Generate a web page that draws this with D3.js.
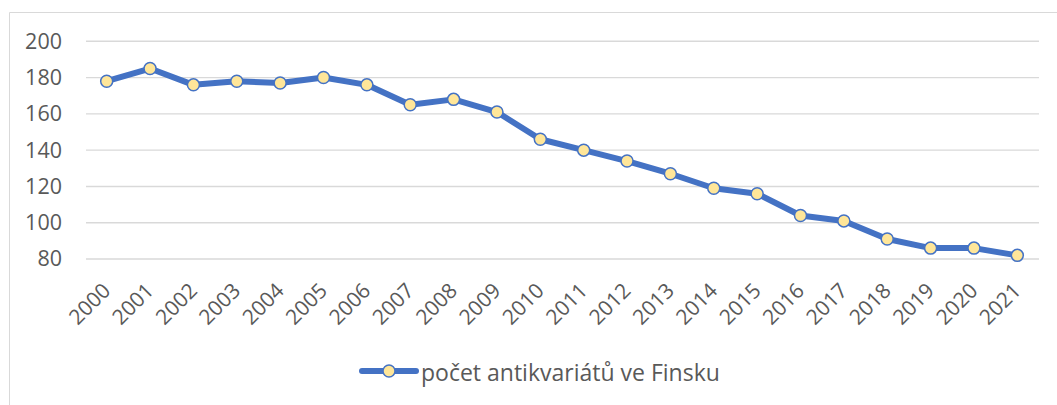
<!DOCTYPE html>
<html>
<head>
<meta charset="utf-8">
<script src="https://cdn.jsdelivr.net/npm/d3@7"></script>
<style>
  body { margin: 0; background: #fff; }
  svg { display: block; font-family: "Open Sans", sans-serif; }
</style>
</head>
<body>
<svg></svg>
<script>
//Data
const years = ["2000", "2001", "2002", "2003", "2004", "2005", "2006", "2007", "2008", "2009", "2010",
               "2011", "2012", "2013", "2014", "2015", "2016", "2017", "2018", "2019", "2020", "2021"];
const shops = [178, 185, 176, 178, 177, 180, 176, 165, 168, 161, 146,
               140, 134, 127, 119, 116, 104, 101, 91, 86, 86, 82];
const yTicks = [80, 100, 120, 140, 160, 180, 200];
const seriesName = "počet antikvariátů ve Finsku";

const w = 1057;
const h = 405;
const lineColor = "#4472C4";
const markerFill = "#FFE699";
const textColor = "#595959";

const chart = d3.select("svg")
                .attr("width", w)
                .attr("height", h);

//Chart frame
chart.append("path")
     .attr("d", "M9.5," + h + " V12.5 H" + w)
     .attr("fill", "none")
     .attr("stroke", "#D9D9D9")
     .attr("stroke-width", 1);

//Scales
const xScale = d3.scaleBand()
                 .domain(years)
                 .range([85, 1039]);

const yScale = d3.scaleLinear()
                 .domain([80, 200])
                 .range([259, 41.3]);

//Gridlines
chart.append("g")
     .selectAll("line")
     .data(yTicks)
     .enter()
     .append("line")
     .attr("x1", 86)
     .attr("x2", 1039)
     .attr("y1", (d) => yScale(d))
     .attr("y2", (d) => yScale(d))
     .attr("stroke", "#D9D9D9")
     .attr("stroke-width", 1.4);

//Y axis labels
const yAxis = d3.axisLeft(yScale).tickValues(yTicks).tickSize(0).tickPadding(0);
const yG = chart.append("g")
                .attr("transform", "translate(62, 0)")
                .call(yAxis);
yG.select(".domain").remove();
yG.selectAll("text")
  .attr("fill", textColor)
  .style("font-size", "21.5px")
  .style("font-family", "'Open Sans', sans-serif");

//X axis labels (rotated)
chart.append("g")
     .selectAll("text")
     .data(years)
     .enter()
     .append("text")
     .attr("transform", (d) => "translate(" + (xScale(d) + xScale.bandwidth() / 2 + 5) + ", 292) rotate(-45)")
     .attr("text-anchor", "end")
     .attr("fill", textColor)
     .style("font-size", "21px")
     .text((d) => d);

//Line
const line = d3.line()
               .x((d, i) => xScale(years[i]) + xScale.bandwidth() / 2)
               .y((d) => yScale(d));

chart.append("path")
     .datum(shops)
     .attr("d", line)
     .attr("fill", "none")
     .attr("stroke", lineColor)
     .attr("stroke-width", 6)
     .attr("stroke-linejoin", "round")
     .attr("stroke-linecap", "round");

chart.append("g")
     .selectAll("circle")
     .data(shops)
     .enter()
     .append("circle")
     .attr("cx", (d, i) => xScale(years[i]) + xScale.bandwidth() / 2)
     .attr("cy", (d) => yScale(d))
     .attr("r", 6)
     .attr("fill", markerFill)
     .attr("stroke", lineColor)
     .attr("stroke-width", 1.5);

//Legend
const legend = chart.append("g");
legend.append("line")
      .attr("x1", 362)
      .attr("x2", 416)
      .attr("y1", 371)
      .attr("y2", 371)
      .attr("stroke", lineColor)
      .attr("stroke-width", 6)
      .attr("stroke-linecap", "round");
legend.append("circle")
      .attr("cx", 389)
      .attr("cy", 371)
      .attr("r", 6)
      .attr("fill", markerFill)
      .attr("stroke", lineColor)
      .attr("stroke-width", 1.5);
legend.append("text")
      .attr("x", 421)
      .attr("y", 381)
      .attr("fill", textColor)
      .style("font-size", "23px")
      .text(seriesName);
</script>
</body>
</html>
